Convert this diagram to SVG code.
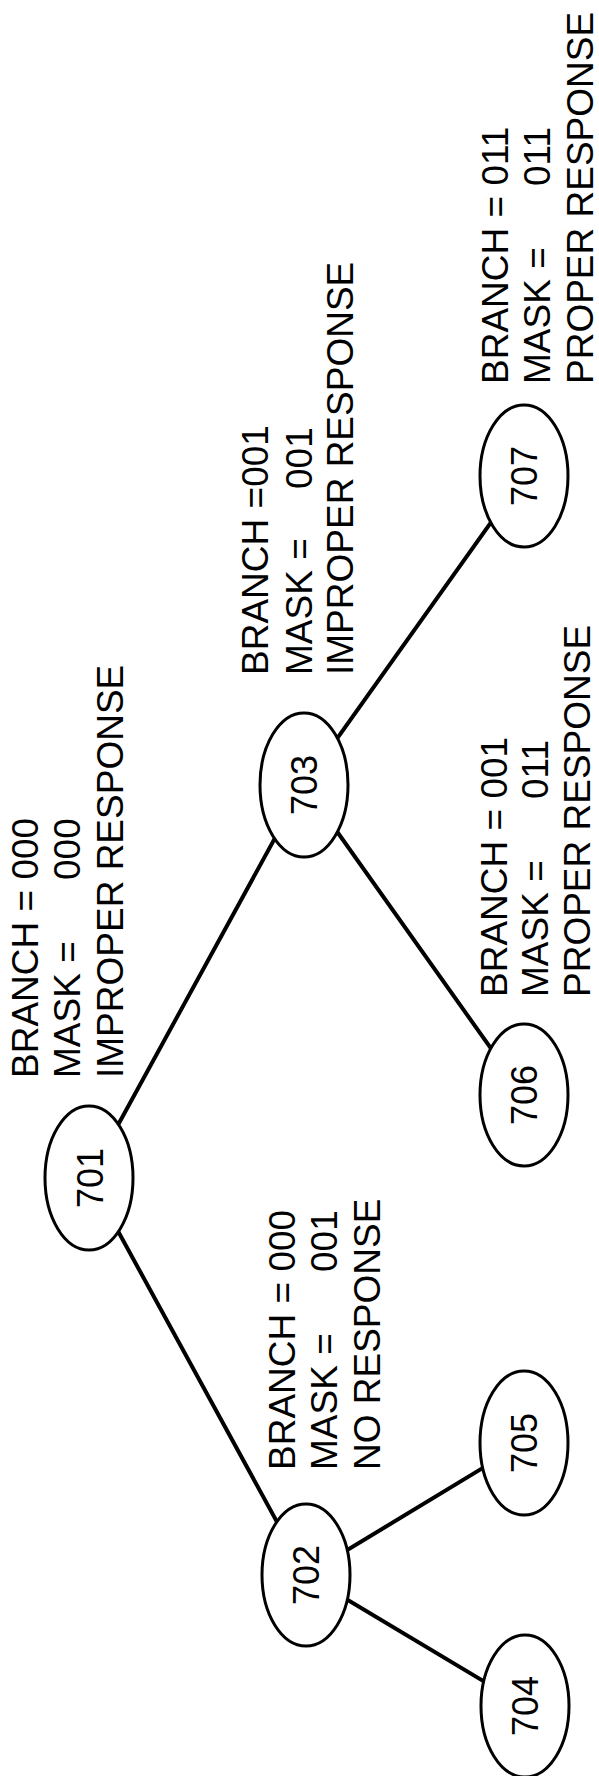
<svg xmlns="http://www.w3.org/2000/svg" width="599" height="1776" viewBox="0 0 599 1776">
<style>
.edge{stroke:#000;stroke-width:4;fill:none;stroke-linecap:round}
.node{fill:#fff;stroke:#000;stroke-width:3}
.num{font-family:"Liberation Sans",Arial,sans-serif;font-size:36px;text-anchor:middle;fill:#000}
.lbl{font-family:"Liberation Sans",Arial,sans-serif;font-size:37px;fill:#000}
</style>
<rect width="599" height="1776" fill="#fff"/>
<g id="connectors">
<line class="edge" x1="89" y1="1178" x2="306" y2="1575"/>
<line class="edge" x1="89" y1="1178" x2="304" y2="785"/>
<line class="edge" x1="304" y1="785" x2="524" y2="476"/>
<line class="edge" x1="304" y1="785" x2="524" y2="1095"/>
<line class="edge" x1="306" y1="1575" x2="524" y2="1443"/>
<line class="edge" x1="306" y1="1575" x2="525" y2="1706"/>
</g>
<g id="n701">
<ellipse class="node" cx="89" cy="1178" rx="44" ry="72"/>
<text class="num" transform="translate(103,1178) rotate(-90)">701</text>
</g>
<g id="n702">
<ellipse class="node" cx="306" cy="1575" rx="44" ry="71"/>
<text class="num" transform="translate(319,1575) rotate(-90)">702</text>
</g>
<g id="n703">
<ellipse class="node" cx="304" cy="785" rx="44" ry="72"/>
<text class="num" transform="translate(317,785) rotate(-90)">703</text>
</g>
<g id="n704">
<ellipse class="node" cx="525" cy="1706" rx="44" ry="71"/>
<text class="num" transform="translate(538,1706) rotate(-90)">704</text>
</g>
<g id="n705">
<ellipse class="node" cx="524" cy="1443" rx="44" ry="72"/>
<text class="num" transform="translate(537,1443) rotate(-90)">705</text>
</g>
<g id="n706">
<ellipse class="node" cx="524" cy="1095" rx="44" ry="71"/>
<text class="num" transform="translate(537,1095) rotate(-90)">706</text>
</g>
<g id="n707">
<ellipse class="node" cx="524" cy="476" rx="44" ry="71"/>
<text class="num" transform="translate(537,476) rotate(-90)">707</text>
</g>
<g id="label701">
<text class="lbl" transform="translate(38,1078) rotate(-90)">BRANCH = 000</text>
<text class="lbl" transform="translate(80,1078) rotate(-90)">MASK =<tspan x="198">000</tspan></text>
<text class="lbl" transform="translate(123,1078) rotate(-90)">IMPROPER RESPONSE</text>
</g>
<g id="label702">
<text class="lbl" transform="translate(295,1470) rotate(-90)">BRANCH = 000</text>
<text class="lbl" transform="translate(337,1470) rotate(-90)">MASK =<tspan x="198">001</tspan></text>
<text class="lbl" transform="translate(380,1470) rotate(-90)">NO RESPONSE</text>
</g>
<g id="label703">
<text class="lbl" transform="translate(268,675) rotate(-90)">BRANCH =001</text>
<text class="lbl" transform="translate(312,675) rotate(-90)">MASK =<tspan x="186">001</tspan></text>
<text class="lbl" transform="translate(353,675) rotate(-90)">IMPROPER RESPONSE</text>
</g>
<g id="label706">
<text class="lbl" transform="translate(507,997) rotate(-90)">BRANCH = 001</text>
<text class="lbl" transform="translate(548,997) rotate(-90)">MASK =<tspan x="198">011</tspan></text>
<text class="lbl" transform="translate(590,997) rotate(-90)">PROPER RESPONSE</text>
</g>
<g id="label707">
<text class="lbl" transform="translate(508,384) rotate(-90)">BRANCH = 011</text>
<text class="lbl" transform="translate(550,384) rotate(-90)">MASK =<tspan x="198">011</tspan></text>
<text class="lbl" transform="translate(593,384) rotate(-90)">PROPER RESPONSE</text>
</g>
</svg>
